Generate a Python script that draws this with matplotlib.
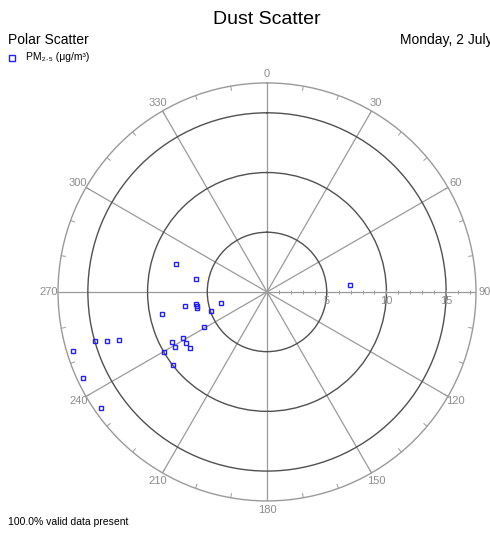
import numpy as np
import matplotlib
matplotlib.use("Agg")
import matplotlib.pyplot as plt

plt.rcParams["font.family"] = ["Liberation Sans", "DejaVu Sans"]

# wind direction (deg, clockwise from north) and PM2.5 value
direction = [287, 280, 260, 260, 259, 257, 256, 251, 258, 241, 241, 238,
             242, 239, 234, 240, 232, 254, 253, 252, 253, 245, 235, 85]
pm25 = [8, 6, 7, 6, 6, 6, 4, 5, 9, 6, 8, 8,
        9, 9, 8, 10, 10, 15, 14, 13, 17, 17, 17, 7]

ring_values = [5, 10, 15]
angle_ticks = list(range(0, 360, 30))
r_max = 17.5

grey = "#8c8c8c"
dark = "#505050"

fig = plt.figure(figsize=(4.90, 5.34), dpi=100)
ax = fig.add_axes([0.1184, 0.0618, 0.853, 0.783], projection="polar")
ax.set_theta_zero_location("N")
ax.set_theta_direction(-1)
ax.set_ylim(0, r_max)

ax.set_thetagrids(angle_ticks, [str(a) for a in angle_ticks])
ax.tick_params(axis="x", colors=grey, labelsize=8, pad=-4)
ax.xaxis.grid(True, color="#9a9a9a", linewidth=0.9)
ax.set_rgrids(ring_values, [""] * len(ring_values))
ax.yaxis.grid(True, color=dark, linewidth=1.0)
ax.spines["polar"].set_color("#9a9a9a")
ax.spines["polar"].set_linewidth(1.0)

# radial labels below the 90 degree spoke
for v in ring_values:
    ax.annotate(str(v), xy=(np.deg2rad(90), v), xytext=(0, -3),
                textcoords="offset points", color=grey, fontsize=8,
                ha="center", va="top")
# minor ticks along the 90 degree spoke
minor_r = np.arange(1, int(r_max) + 1)
ax.plot(np.full(len(minor_r), np.deg2rad(90)), minor_r, linestyle="none",
        marker="|", markersize=3, color="#9a9a9a", markeredgewidth=0.7)
# minor angular ticks on the outer ring
for a in range(0, 360, 10):
    t = np.deg2rad(a)
    ax.plot([t, t], [r_max - 0.35, r_max], color="#9a9a9a", linewidth=0.7)

ax.plot(np.deg2rad(direction), pm25, linestyle="none", marker="s",
        markersize=3.2, markerfacecolor="none", markeredgecolor="#2020ff",
        markeredgewidth=1.0, clip_on=False)

fig.text(0.545, 0.963, "Dust Scatter", fontsize=14, ha="center", va="center")
fig.text(0.016, 0.925, "Polar Scatter", fontsize=10, ha="left", va="center")
fig.text(0.816, 0.925, "Monday, 2 July 2018", fontsize=10, ha="left", va="center")
fig.text(0.053, 0.893, "PM\u2082.\u2085 (\u03bcg/m\u00b3)", fontsize=7.5,
         ha="left", va="center")
fig.lines.append(plt.Line2D([0.024], [0.891], marker="s", markersize=4.5,
                            markerfacecolor="none", markeredgecolor="#2020ff",
                            markeredgewidth=1.0, transform=fig.transFigure))
fig.text(0.016, 0.022, "100.0% valid data present", fontsize=7.5,
         ha="left", va="center")

fig.savefig("out.png", dpi=100)
